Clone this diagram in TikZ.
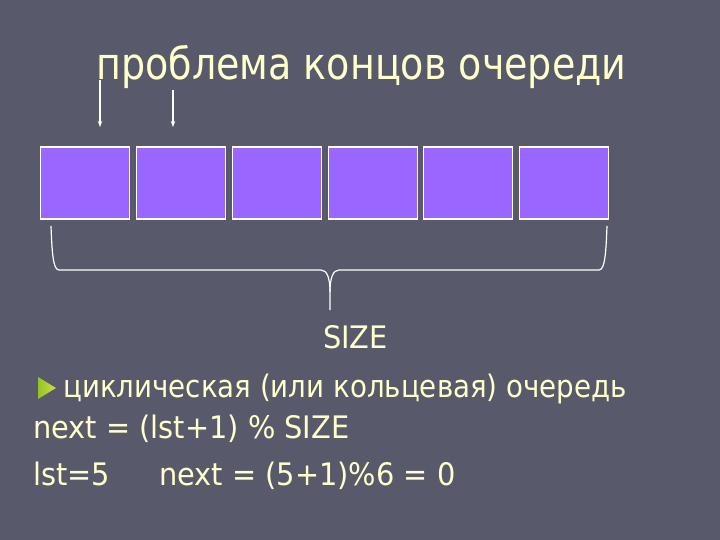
\documentclass[tikz,border=0pt]{standalone}
\usepackage{fontspec}
\setmainfont{DejaVu Sans}[FakeStretch=0.93]
\newfontfamily\titlefont{DejaVu Sans}[FakeStretch=0.865]
\newfontfamily\cyrfont{DejaVu Sans}[FakeStretch=0.893]
\usetikzlibrary{arrows.meta}
\definecolor{bg}{RGB}{88,90,107}
\definecolor{txt}{RGB}{255,255,204}
\definecolor{cell}{RGB}{153,102,255}
\definecolor{bulA}{RGB}{150,195,35}
\definecolor{bulB}{RGB}{200,225,70}
\tikzset{
  cellbox/.style={draw=white, line width=1.3pt, fill=cell, minimum width=89pt, minimum height=72pt, inner sep=0pt, anchor=north west},
  txtnode/.style={text=txt, inner sep=0pt, font=\fontsize{31pt}{36pt}\selectfont},
  ptr/.style={draw=white, line width=1.2pt, -{Stealth[length=6pt,width=4.5pt]}},
  brace/.style={draw=white, line width=1.2pt}
}
\begin{document}
\begin{tikzpicture}[x=1pt,y=-1pt]
\useasboundingbox (0,0) rectangle (720,540);
\fill[bg] (0,0) rectangle (720,540);
% title
\node[txtnode, anchor=base west, font=\titlefont\fontsize{44pt}{50pt}\selectfont] (title) at (96,80) {проблема концов очереди};
% cells
\node[cellbox] (b1) at (39.5,146.5) {};
\node[cellbox] (b2) at (135.5,146.5) {};
\node[cellbox] (b3) at (231.5,146.5) {};
\node[cellbox] (b4) at (327.5,146.5) {};
\node[cellbox] (b5) at (422.5,146.5) {};
\node[cellbox] (b6) at (518.5,146.5) {};
% pointers
\coordinate (p1s) at (100,80);
\coordinate (p1e) at (100,127);
\coordinate (p2s) at (173,90);
\coordinate (p2e) at (173,127);
\draw[ptr] (p1s) -- (p1e);
\draw[ptr] (p2s) -- (p2e);
% brace
\coordinate (bl) at (51,226);
\coordinate (br) at (607,226);
\coordinate (bm) at (330,310);
\draw[brace] (bl) .. controls (52,252) and (53,270) .. (59,270) -- (321,270)
   .. controls (327,270) and (330,278) .. (330,292) -- (bm);
\draw[brace] (br) .. controls (606,252) and (605,270) .. (599,270) -- (339,270)
   .. controls (333,270) and (330,278) .. (330,292);
% texts
\node[txtnode, anchor=base] (size) at (355.5,348) {SIZE};
\shade[left color=bulA, right color=bulB] (38,377) -- (56,388) -- (38,399) -- cycle;
\node[txtnode, anchor=base west, font=\cyrfont\fontsize{31pt}{36pt}\selectfont] (l1) at (63,397) {циклическая (или кольцевая) очередь};
\node[txtnode, anchor=base west] (l2) at (33,438) {next = (lst+1) \% SIZE};
\node[txtnode, anchor=base west] (l3) at (33,485) {lst=5};
\node[txtnode, anchor=base west] (l4) at (159,485) {next = (5+1)\%6 = 0};
\end{tikzpicture}
\end{document}
